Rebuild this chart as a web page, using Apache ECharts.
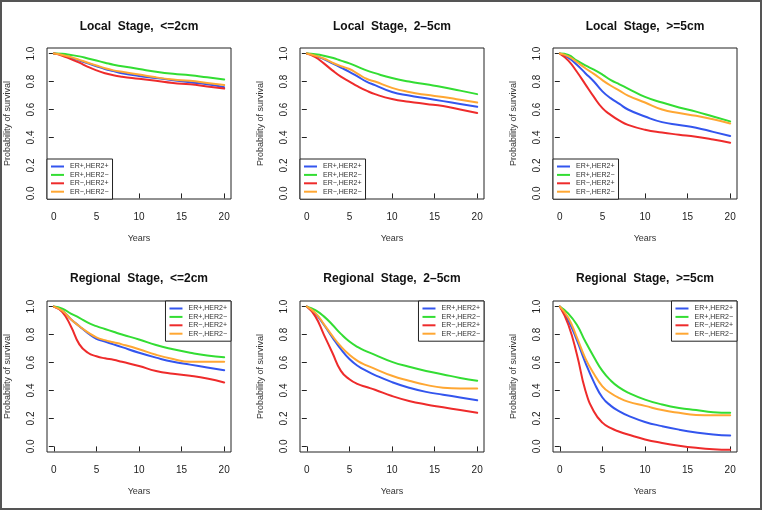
<!DOCTYPE html>
<html>
<head>
<meta charset="utf-8">
<script src="https://cdn.jsdelivr.net/npm/echarts@6/dist/echarts.min.js"></script>
<style>
  html, body { margin: 0; padding: 0; background: #fff; }
  #main { width: 764px; height: 512px; }
</style>
</head>
<body>
<div id="main"></div>
<script>
var chart = echarts.init(document.getElementById('main'));

var groups = ['ER+,HER2+', 'ER+,HER2−', 'ER−,HER2+', 'ER−,HER2−'];
var colors = ['#3355ee', '#33dd33', '#ee2b2b', '#ffa733'];

var titles = [
  'Local  Stage,  <=2cm', 'Local  Stage,  2–5cm', 'Local  Stage,  >=5cm',
  'Regional  Stage,  <=2cm', 'Regional  Stage,  2–5cm', 'Regional  Stage,  >=5cm'
];

var years = [0, 1, 2, 3, 4, 5, 6, 7, 8, 10, 12, 14, 16, 18, 20];
var xTicks = [0, 5, 10, 15, 20];
var yTicks = [0, 0.2, 0.4, 0.6, 0.8, 1.0];

// order in each panel: ER+HER2+, ER+HER2-, ER-HER2+, ER-HER2-
var localLe2 = [
  [1, 0.99, 0.97, 0.95, 0.93, 0.91, 0.89, 0.875, 0.86, 0.84, 0.825, 0.81, 0.795, 0.78, 0.76],
  [1, 0.998, 0.99, 0.98, 0.965, 0.95, 0.935, 0.92, 0.91, 0.89, 0.87, 0.855, 0.845, 0.83, 0.815],
  [1, 0.985, 0.96, 0.935, 0.905, 0.88, 0.86, 0.845, 0.835, 0.82, 0.805, 0.79, 0.78, 0.765, 0.75],
  [1, 0.99, 0.975, 0.955, 0.935, 0.915, 0.895, 0.88, 0.87, 0.85, 0.83, 0.815, 0.805, 0.79, 0.775]
];
var local2to5 = [
  [1, 0.985, 0.96, 0.93, 0.9, 0.87, 0.835, 0.8, 0.775, 0.725, 0.7, 0.68, 0.66, 0.64, 0.62],
  [1, 0.995, 0.985, 0.97, 0.95, 0.93, 0.905, 0.88, 0.86, 0.825, 0.8, 0.78, 0.76, 0.735, 0.71],
  [1, 0.975, 0.93, 0.88, 0.835, 0.8, 0.765, 0.735, 0.71, 0.675, 0.655, 0.64, 0.625, 0.6, 0.575],
  [1, 0.985, 0.965, 0.935, 0.91, 0.89, 0.855, 0.82, 0.8, 0.755, 0.725, 0.705, 0.69, 0.67, 0.65]
];
var localGe5 = [
  [1, 0.97, 0.92, 0.86, 0.8, 0.73, 0.68, 0.64, 0.6, 0.55, 0.51, 0.49, 0.47, 0.44, 0.41],
  [1, 0.99, 0.95, 0.915, 0.885, 0.85, 0.81, 0.78, 0.75, 0.69, 0.65, 0.615, 0.585, 0.55, 0.515],
  [1, 0.95, 0.87, 0.78, 0.69, 0.61, 0.56, 0.52, 0.49, 0.455, 0.435, 0.42, 0.405, 0.385, 0.362],
  [1, 0.98, 0.94, 0.895, 0.855, 0.81, 0.77, 0.735, 0.7, 0.65, 0.6, 0.575, 0.555, 0.53, 0.5]
];
var regionalLe2 = [
  [1, 0.97, 0.91, 0.86, 0.81, 0.77, 0.75, 0.73, 0.71, 0.67, 0.635, 0.605, 0.585, 0.565, 0.545],
  [1, 0.985, 0.95, 0.92, 0.885, 0.86, 0.84, 0.82, 0.8, 0.765, 0.725, 0.695, 0.67, 0.65, 0.638],
  [1, 0.96, 0.86, 0.73, 0.67, 0.645, 0.63, 0.62, 0.605, 0.575, 0.54, 0.52, 0.505, 0.485, 0.457],
  [1, 0.97, 0.91, 0.86, 0.815, 0.78, 0.76, 0.745, 0.73, 0.695, 0.655, 0.625, 0.605, 0.605, 0.605]
];
var regional2to5 = [
  [1, 0.95, 0.87, 0.78, 0.695, 0.625, 0.575, 0.54, 0.51, 0.46, 0.42, 0.39, 0.37, 0.35, 0.33],
  [1, 0.975, 0.93, 0.87, 0.805, 0.75, 0.71, 0.68, 0.655, 0.605, 0.57, 0.54, 0.515, 0.49, 0.47],
  [1, 0.93, 0.8, 0.67, 0.54, 0.48, 0.445, 0.425, 0.405, 0.36, 0.325, 0.3, 0.28, 0.26, 0.24],
  [1, 0.955, 0.875, 0.79, 0.715, 0.655, 0.61, 0.58, 0.555, 0.505, 0.47, 0.44, 0.42, 0.415, 0.415]
];
var regionalGe5 = [
  [1, 0.9, 0.76, 0.6, 0.46, 0.35, 0.29, 0.25, 0.22, 0.175, 0.145, 0.12, 0.1, 0.085, 0.078],
  [1, 0.95, 0.87, 0.75, 0.64, 0.54, 0.47, 0.42, 0.385, 0.335, 0.3, 0.275, 0.26, 0.245, 0.24],
  [1, 0.87, 0.66, 0.4, 0.25, 0.17, 0.13, 0.105, 0.085, 0.05, 0.025, 0.005, -0.01, -0.02, -0.024],
  [1, 0.92, 0.78, 0.63, 0.52, 0.43, 0.38, 0.345, 0.32, 0.29, 0.26, 0.24, 0.225, 0.222, 0.222]
];

var panels = [localLe2, local2to5, localGe5, regionalLe2, regional2to5, regionalGe5];

var colLeft = [47, 300, 553];
var rowTop = [48, 301];
var boxW = 184, boxH = 151;
var font = 'Liberation Sans, Arial, Helvetica, sans-serif';

var grid = [], xAxis = [], yAxis = [], title = [], legend = [], series = [];

panels.forEach(function (panel, p) {
  var c = p % 3, r = Math.floor(p / 3);
  var left = colLeft[c], top = rowTop[r];

  grid.push({
    left: left, top: top, width: boxW, height: boxH,
    show: true, borderColor: '#222', borderWidth: 1, backgroundColor: 'transparent'
  });

  title.push({
    text: titles[p],
    left: left + boxW / 2,
    top: r === 0 ? 21 : 273,
    textAlign: 'center',
    padding: 0,
    textStyle: { fontFamily: font, fontSize: 12, fontWeight: 'bold', color: '#111' }
  });

  xAxis.push({
    type: 'value', gridIndex: p, min: -0.8, max: 20.8,
    name: 'Years', nameLocation: 'middle', nameGap: 35,
    nameTextStyle: { fontFamily: font, fontSize: 9, color: '#333' },
    axisLine: { show: false },
    axisTick: { show: true, length: 5, customValues: xTicks, lineStyle: { color: '#222' } },
    axisLabel: { customValues: xTicks, margin: 13, fontFamily: font, fontSize: 10, color: '#222' },
    splitLine: { show: false }
  });

  yAxis.push({
    type: 'value', gridIndex: p, min: -0.04, max: 1.04,
    name: 'Probability of survival', nameLocation: 'middle', nameGap: 35,
    nameTextStyle: { fontFamily: font, fontSize: 9, color: '#333' },
    axisLine: { show: false },
    axisTick: { show: true, length: 5, customValues: yTicks, lineStyle: { color: '#222' } },
    axisLabel: {
      customValues: yTicks, rotate: 90, margin: 11,
      fontFamily: font, fontSize: 10, color: '#222',
      formatter: function (v) { return v.toFixed(1); }
    },
    splitLine: { show: false }
  });

  var lg = {
    data: groups,
    orient: 'vertical',
    selectedMode: false,
    icon: 'rect',
    itemWidth: 13, itemHeight: 2, itemGap: 0.4,
    padding: [3.5, 4, 3.5, 4],
    borderColor: '#222', borderWidth: 1,
    backgroundColor: '#fff',
    textStyle: { fontFamily: font, fontSize: 7, lineHeight: 8, color: '#333', padding: [0, 0, 0, 1] }
  };
  if (r === 0) {
    lg.left = left;
    lg.top = top + boxH - 40;
  } else {
    lg.right = 764 - (left + boxW);
    lg.top = top;
  }
  legend.push(lg);

  panel.forEach(function (vals, g) {
    series.push({
      type: 'line',
      name: groups[g],
      xAxisIndex: p, yAxisIndex: p,
      data: years.map(function (t, i) { return [t, vals[i]]; }),
      showSymbol: false,
      smooth: 0.5,
      color: colors[g],
      lineStyle: { width: 2, color: colors[g], join: 'round', cap: 'round' },
      z: 2
    });
  });
});

chart.setOption({
  animation: false,
  backgroundColor: '#fff',
  title: title,
  legend: legend,
  grid: grid,
  xAxis: xAxis,
  yAxis: yAxis,
  series: series,
  graphic: [{
    type: 'rect',
    shape: { x: 1, y: 1, width: 760, height: 508 },
    style: { fill: 'none', stroke: '#555', lineWidth: 2 },
    silent: true
  }]
});
</script>
</body>
</html>
